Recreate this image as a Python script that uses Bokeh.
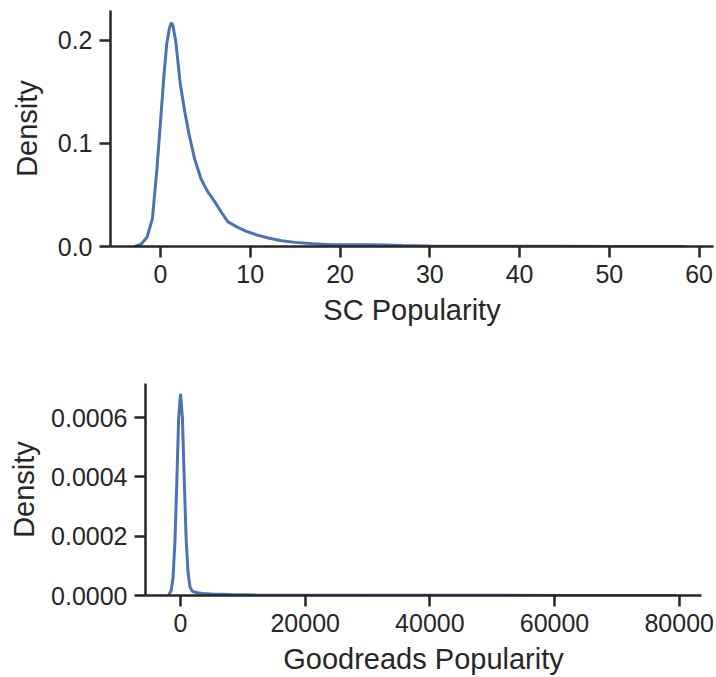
from bokeh.plotting import figure
from bokeh.models import Range1d, FixedTicker, PrintfTickFormatter
from bokeh.layouts import column
from bokeh.embed import file_html
from bokeh.resources import INLINE

# --- SC Popularity KDE ---
sc_x = [-2.9, -2.2, -1.5, -0.9, -0.4, 0.0, 0.4, 0.7, 1.0, 1.2, 1.4, 1.7, 2.2, 2.7, 3.2,
        3.8, 4.5, 5.2, 6.0, 6.8, 7.5, 8.5, 9.5, 10.8, 12.0, 13.5, 15.0, 17.0, 19.0,
        21.0, 23.0, 25.0, 27.0, 30.0, 35.0, 40.0, 45.0, 50.0, 55.0, 58.5]
sc_y = [0.0, 0.002, 0.009, 0.027, 0.075, 0.121, 0.168, 0.197, 0.212, 0.217, 0.214, 0.199,
        0.158, 0.131, 0.108, 0.085, 0.066, 0.054, 0.044, 0.033, 0.024, 0.019, 0.015,
        0.011, 0.0082, 0.0055, 0.004, 0.0027, 0.0018, 0.0016, 0.0018, 0.0015, 0.0009,
        0.0005, 0.0003, 0.0002, 0.0002, 0.0001, 0.0001, 0.0]
sc_xticks = [0, 10, 20, 30, 40, 50, 60]
sc_yticks = [0.0, 0.1, 0.2]

# --- Goodreads Popularity KDE ---
gr_x = [-1900, -1500, -1200, -900, -600, -300, 0, 300, 600, 900, 1200, 1500, 1900, 2500,
        3500, 5000, 8000, 12000, 20000, 30000, 40000, 50000, 60000, 70000, 79500]
gr_y = [0.000002, 0.000017, 0.00006, 0.00018, 0.00038, 0.0006, 0.00068, 0.0006, 0.00039,
        0.00019, 0.00008, 0.00003, 0.000014, 0.00001, 0.000007, 0.000005, 0.000003,
        0.000002, 0.000001, 0.0000008, 0.0000006, 0.0000005, 0.0000004, 0.0000002, 0.0]
gr_xticks = [0, 20000, 40000, 60000, 80000]
gr_yticks = [0.0, 0.0002, 0.0004, 0.0006]

LINE = "#4C72B0"
INK = "#262626"
FONT = "Liberation Sans"


def style(p, xlabel, ylabel, xticks, yticks, yfmt, xfmt, ylab_standoff):
    p.outline_line_color = None
    p.xgrid.visible = False
    p.ygrid.visible = False
    p.background_fill_color = "white"
    p.border_fill_color = "white"
    p.xaxis.axis_label = xlabel
    p.yaxis.axis_label = ylabel
    p.xaxis.ticker = FixedTicker(ticks=xticks)
    p.yaxis.ticker = FixedTicker(ticks=yticks)
    p.yaxis.formatter = PrintfTickFormatter(format=yfmt)
    p.xaxis.formatter = PrintfTickFormatter(format=xfmt)
    for ax in (p.xaxis[0], p.yaxis[0]):
        ax.axis_line_color = INK
        ax.axis_line_width = 2.5
        ax.major_tick_line_color = INK
        ax.major_tick_line_width = 2.5
        ax.major_tick_out = 11
        ax.major_tick_in = 0
        ax.minor_tick_line_color = None
        ax.major_label_text_font = FONT
        ax.major_label_text_font_size = "25px"
        ax.major_label_text_color = INK
        ax.axis_label_text_font = FONT
        ax.axis_label_text_font_size = "29px"
        ax.axis_label_text_font_style = "normal"
        ax.axis_label_text_color = INK
        ax.major_label_standoff = 7
    p.xaxis[0].axis_label_standoff = 8
    p.yaxis[0].axis_label_standoff = ylab_standoff


p1 = figure(width=716, height=340, output_backend="svg", toolbar_location=None,
            x_range=Range1d(-5.57, 61.6), y_range=Range1d(0, 0.229),
            min_border_left=110, min_border_right=3, min_border_top=10, min_border_bottom=94)
p1.line(sc_x, sc_y, line_color=LINE, line_width=3)
style(p1, "SC Popularity", "Density", sc_xticks, sc_yticks, "%.1f", "%d", 12)

p2 = figure(width=716, height=337, output_backend="svg", toolbar_location=None,
            x_range=Range1d(-5620, 83580), y_range=Range1d(0, 0.000715),
            min_border_left=145, min_border_right=15, min_border_top=43, min_border_bottom=77)
p2.line(gr_x, gr_y, line_color=LINE, line_width=3)
style(p2, "Goodreads Popularity", "Density", gr_xticks, gr_yticks, "%.4f", "%d", 8)

layout = column(column(p1), column(p2), spacing=0)
open("out.html", "w").write(file_html(layout, INLINE))
